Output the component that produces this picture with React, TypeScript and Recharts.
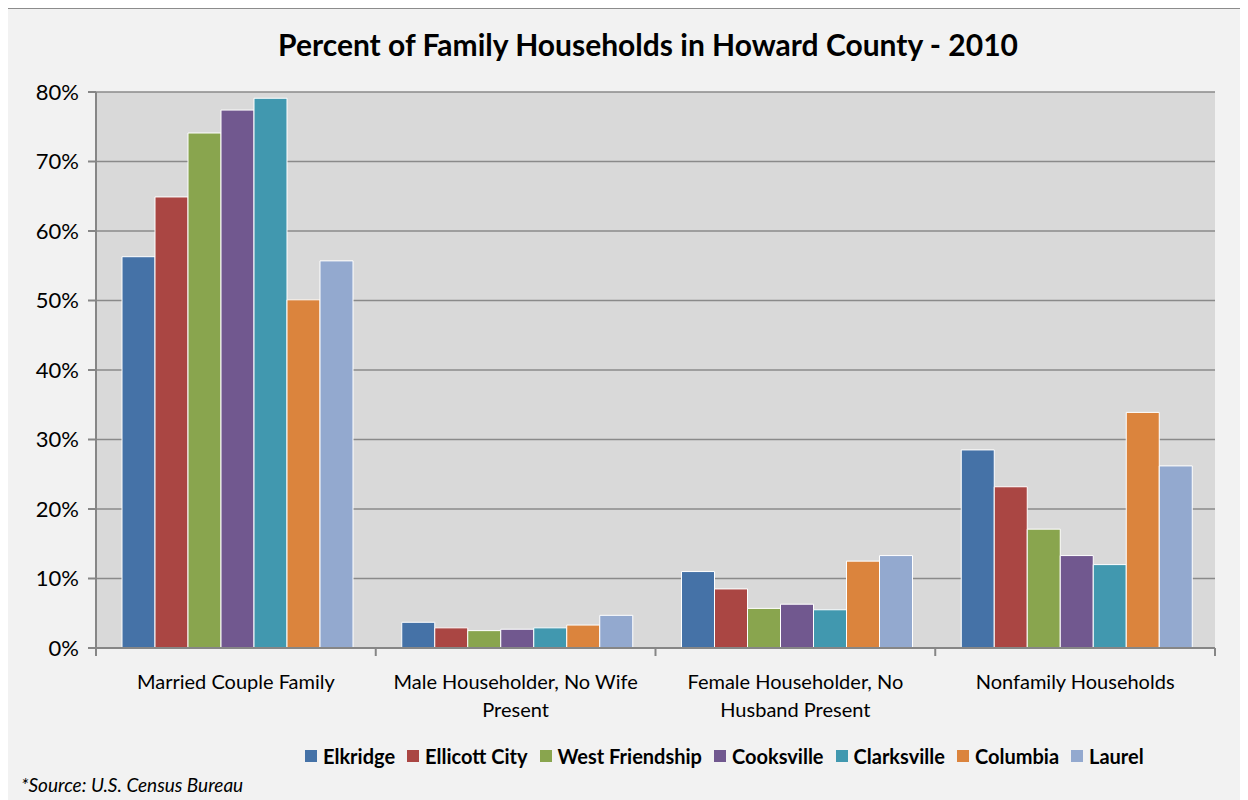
import React from 'react';
import { BarChart, Bar, XAxis, YAxis, CartesianGrid } from 'recharts';

// categories with Excel-style line breaks
const categories = [
  'Married Couple Family',
  'Male Householder, No  Wife\nPresent',
  'Female Householder, No\nHusband Present',
  'Nonfamily Households',
];

const towns = ['Elkridge', 'Ellicott City', 'West Friendship', 'Cooksville', 'Clarksville', 'Columbia', 'Laurel'];
const townColors = ['#4572a7', '#aa4643', '#89a54e', '#71588f', '#4198af', '#db843d', '#93a9cf'];

const elkridge = [56.3, 3.7, 11.0, 28.5];
const ellicottCity = [64.9, 2.9, 8.5, 23.2];
const westFriendship = [74.1, 2.5, 5.7, 17.1];
const cooksville = [77.4, 2.7, 6.3, 13.3];
const clarksville = [79.1, 2.9, 5.5, 12.0];
const columbia = [50.1, 3.3, 12.5, 33.9];
const laurel = [55.7, 4.7, 13.3, 26.2];

const seriesValues = [elkridge, ellicottCity, westFriendship, cooksville, clarksville, columbia, laurel];
const yTicks = [0, 10, 20, 30, 40, 50, 60, 70, 80];

const chartData = categories.map((cat, i) => {
  const row: any = { category: cat };
  towns.forEach((t, j) => {
    row[t] = seriesValues[j][i];
  });
  return row;
});

const FONT = 'Lato, "Open Sans", sans-serif';

const CategoryTick = (props: any) => {
  const { x, y, payload, index, visibleTicksCount } = props;
  const half = payload.offset || 0;
  const lines = String(payload.value).split('\n');
  const isLast = index === visibleTicksCount - 1;
  return (
    <g>
      <line x1={x - half} x2={x - half} y1={y} y2={y + 8} stroke="#868686" strokeWidth={2} />
      {isLast && <line x1={x + half} x2={x + half} y1={y} y2={y + 8} stroke="#868686" strokeWidth={2} />}
      <text x={x} y={y + 41} textAnchor="middle" fill="#000" fontSize={20} fontFamily={FONT}>
        {lines.map((l, i) => (
          <tspan key={i} x={x} dy={i === 0 ? 0 : 28}>{l}</tspan>
        ))}
      </text>
    </g>
  );
};

export default function App() {
  return (
    <div
      style={{
        position: 'relative',
        width: 1241,
        height: 793,
        marginLeft: -1,
        boxSizing: 'border-box',
        border: '1px solid #8c8c8c',
        background: '#f2f2f2',
        fontFamily: FONT,
      }}
    >
      <div
        style={{
          position: 'absolute',
          left: 0,
          top: 17,
          width: 1280,
          textAlign: 'center',
          fontSize: 30,
          fontWeight: 700,
          color: '#000',
        }}
      >
        Percent of Family Households in Howard County - 2010
      </div>

      <div style={{ position: 'absolute', left: 0, top: 0 }}>
        <BarChart
          width={1239}
          height={791}
          data={chartData}
          margin={{ top: 83, right: 32, left: 0, bottom: 92 }}
          barCategoryGap={26}
          barGap={0}
        >
          <CartesianGrid vertical={false} stroke="#8a8a8a" strokeWidth={1.5} fill="#d9d9d9" />
          <XAxis
            dataKey="category"
            height={60}
            interval={0}
            tickSize={0}
            tickMargin={0}
            tick={<CategoryTick />}
            axisLine={{ stroke: '#868686', strokeWidth: 2 }}
            tickLine={false}
          />
          <YAxis
            width={88}
            domain={[0, 80]}
            ticks={yTicks}
            interval={0}
            tickFormatter={(v) => `${v}%`}
            tickSize={8}
            tickMargin={9}
            tick={{ fill: '#000', fontSize: 22, fontFamily: FONT }}
            axisLine={{ stroke: '#868686', strokeWidth: 2 }}
            tickLine={{ stroke: '#868686', strokeWidth: 2 }}
          />
          {towns.map((t, i) => (
            <Bar key={t} dataKey={t} fill={townColors[i]} stroke="#ffffff" strokeWidth={1} isAnimationActive={false} />
          ))}
        </BarChart>
      </div>

      {/* legend */}
      <div
        style={{
          position: 'absolute',
          left: 297,
          top: 734,
          display: 'flex',
          alignItems: 'center',
          gap: 12,
          fontSize: 20,
          lineHeight: '26px',
          fontWeight: 700,
          color: '#000',
          whiteSpace: 'nowrap',
        }}
      >
        {towns.map((t, i) => (
          <div key={t} style={{ display: 'flex', alignItems: 'center' }}>
            <span style={{ display: 'inline-block', width: 12, height: 12, background: townColors[i], marginRight: 6 }} />
            <span>{t}</span>
          </div>
        ))}
      </div>

      <div
        style={{
          position: 'absolute',
          left: 13,
          top: 764,
          fontSize: 19,
          lineHeight: '24px',
          fontStyle: 'italic',
          color: '#000',
        }}
      >
        *Source: U.S. Census Bureau
      </div>
    </div>
  );
}
